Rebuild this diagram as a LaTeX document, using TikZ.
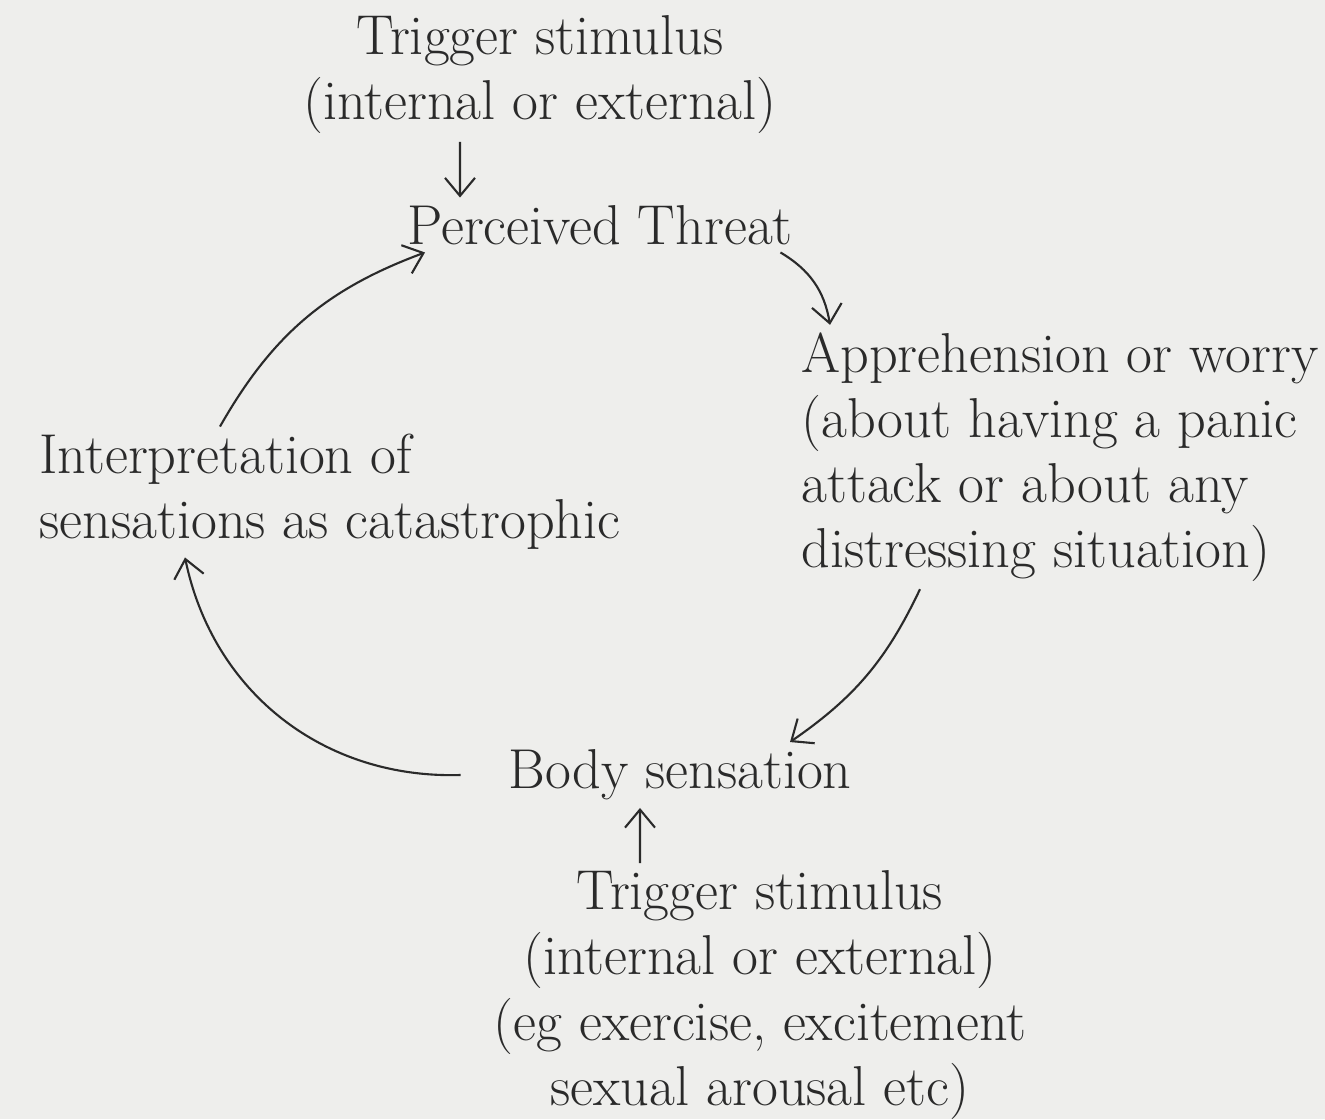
\documentclass[tikz,border=0pt]{standalone}
\usepackage{xcolor}
\usepackage{tikz}
\usetikzlibrary{positioning,arrows.meta}
\definecolor{ctinta}{HTML}{2A2A2A}
\definecolor{cpapel}{HTML}{EEEEEC}
\tikzset{
  texto/.style={align=center, text=ctinta, inner sep=2pt,
    font=\fontsize{16}{18.5}\selectfont},
  textoi/.style={texto, align=left},
  flecha/.style={-{Straight Barb[length=1.8mm, width=3mm]}, semithick, draw=ctinta},
}
\begin{document}
\begin{tikzpicture}
  \fill[cpapel] (0,0) rectangle (13.25,11.19);
  \useasboundingbox (0,0) rectangle (13.25,11.19);
  \node[texto] (trigsup) at (5.4,10.44) {Trigger stimulus\\(internal or external)};
  \node[texto] (amenaza) at (6.0,8.94) {Perceived Threat};
  \node[textoi] (aprens) at (10.6,6.62)
    {Apprehension or worry\\(about having a panic\\attack or about any\\distressing situation)};
  \node[textoi] (interp) at (3.3,6.27) {Interpretation of\\sensations as catastrophic};
  \node[texto] (cuerpo) at (6.8,3.44) {Body sensation};
  \node[texto] (triginf) at (7.6,1.24)
    {Trigger stimulus\\(internal or external)\\(eg exercise, excitement\\sexual arousal etc)};
  \draw[flecha] ([xshift=-8mm]trigsup.south) -- ([xshift=-14mm]amenaza.north);
  \draw[flecha] ([xshift=-2mm]amenaza.south east) to[bend left=25] ([xshift=-23mm]aprens.north);
  \draw[flecha] ([xshift=-14mm]aprens.south) to[bend left=15] ([xshift=11mm]cuerpo.north);
  \draw[flecha] ([xshift=-4mm]cuerpo.west) to[bend left=40] ([xshift=-14.5mm]interp.south);
  \draw[flecha] ([xshift=-11mm]interp.north) to[bend left=20] ([xshift=-17.5mm]amenaza.south);
  \draw[flecha] ([xshift=-12mm]triginf.north) -- ([xshift=-4mm]cuerpo.south);
\end{tikzpicture}
\end{document}
